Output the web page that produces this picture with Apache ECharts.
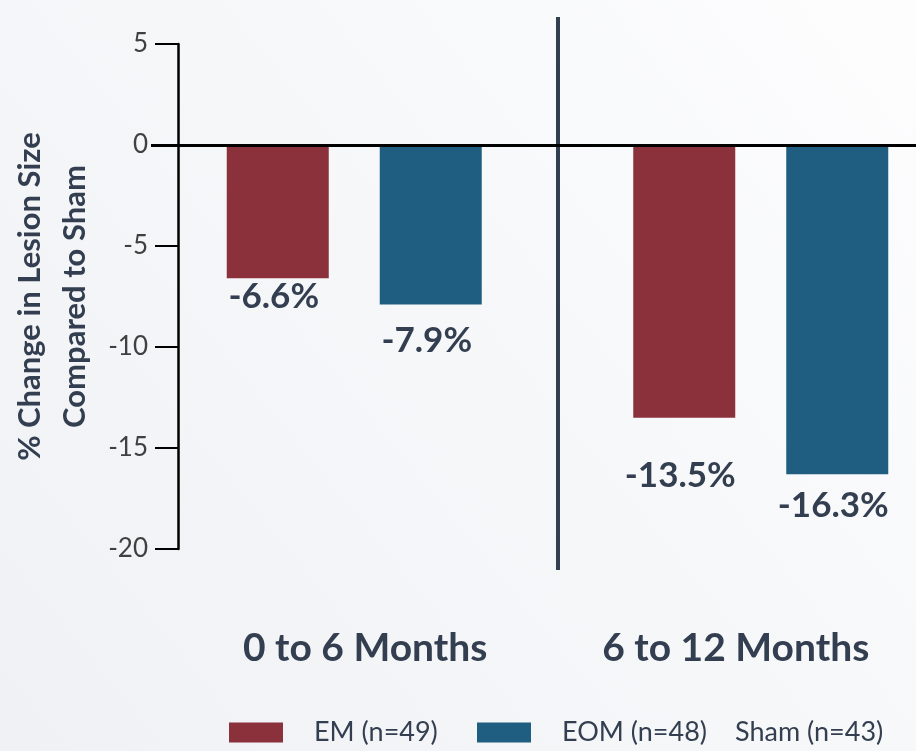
<!DOCTYPE html>
<html>
<head>
<meta charset="utf-8">
<script src="https://cdn.jsdelivr.net/npm/echarts@6/dist/echarts.min.js"></script>
<style>html,body{margin:0;padding:0;}#c{width:916px;height:751px;}</style>
</head>
<body>
<div id="c"></div>
<script>
// ---- data ----
const categories = ['0 to 6 Months', '6 to 12 Months'];
const emValues = [-6.6, -13.5];
const eomValues = [-7.9, -16.3];
const shamValues = [0, 0];
const seriesNames = ['EM (n=49)', 'EOM (n=48)', 'Sham (n=43)'];
const yTicks = [5, 0, -5, -10, -15, -20];
const yTitle = '% Change in Lesion Size\nCompared to Sham';

// ---- styles ----
const TXT = '#333f50';
const RED = '#8b313c';
const BLUE = '#1f5e80';
const FONT = 'Lato';
const emLabelDist = [1, 41];
const eomLabelDist = [19, 14];

const chart = echarts.init(document.getElementById('c'));

function barData(vals, dists) {
  return vals.map((v, i) => ({
    value: v,
    label: { distance: dists[i] }
  }));
}

const labelStyle = {
  show: true,
  position: 'bottom',
  offset: [-4, 0],
  formatter: p => p.value.toFixed(1) + '%',
  color: TXT,
  fontFamily: FONT,
  fontWeight: 'bold',
  fontSize: 35
};

const legendText = { color: TXT, fontFamily: FONT, fontSize: 27 };
const catText = { color: TXT, fontFamily: FONT, fontWeight: 'bold', fontSize: 39 };

chart.setOption({
  backgroundColor: {
    type: 'linear', x: 1, y: 0, x2: 0, y2: 1,
    colorStops: [{ offset: 0, color: '#fdfdfe' }, { offset: 1, color: '#eff1f4' }]
  },
  animation: false,
  grid: [
    { left: 151, width: 813, top: 44, bottom: 202, outerBoundsMode: 'none', containLabel: false },
    { left: 151, width: 813, top: 17, bottom: 181, outerBoundsMode: 'none', containLabel: false }
  ],
  legend: [
    {
      left: 224, bottom: 0, itemWidth: 54, itemHeight: 20, icon: 'rect',
      data: [seriesNames[0]],
      formatter: n => '{g|}{t|' + n + '}',
      textStyle: Object.assign({ rich: { g: { width: 26 }, t: legendText } }, legendText)
    },
    {
      left: 472, bottom: 0, itemWidth: 54, itemHeight: 20, icon: 'rect',
      data: [seriesNames[1]],
      formatter: n => '{g|}{t|' + n + '}',
      textStyle: Object.assign({ rich: { g: { width: 26 }, t: legendText } }, legendText)
    },
    {
      left: 725, bottom: 0, itemWidth: 0, itemHeight: 20, icon: 'none',
      data: [{ name: seriesNames[2], icon: 'none' }],
      textStyle: legendText
    }
  ],
  xAxis: [
    {
      type: 'category', gridIndex: 0, data: categories,
      axisLine: { show: false, onZero: false },
      axisTick: { show: false },
      axisLabel: Object.assign({
        margin: 80, interval: 0, hideOverlap: false, showMaxLabel: true, showMinLabel: true,
        formatter: (v, i) => (i === 0 ? '{a|' : '{b|') + v + '}',
        rich: {
          a: Object.assign({ padding: [0, 0, 0, 22] }, catText),
          b: Object.assign({ padding: [0, 50, 0, 0] }, catText)
        }
      }, catText),
      splitLine: { show: false }
    },
    {
      type: 'category', gridIndex: 1, data: categories,
      axisLine: { show: false }, axisTick: { show: false }, axisLabel: { show: false },
      splitLine: { show: true, showMinLine: false, showMaxLine: false,
        lineStyle: { color: '#323f50', width: 4 } }
    }
  ],
  yAxis: [
    {
      type: 'value', gridIndex: 0,
      min: yTicks[yTicks.length - 1], max: yTicks[0], interval: 5,
      offset: -27,
      name: yTitle, nameLocation: 'middle', nameGap: 69,
      nameTextStyle: { color: TXT, fontFamily: FONT, fontWeight: 'bold', fontSize: 31, lineHeight: 45, align: 'center' },
      axisLine: { show: true, lineStyle: { color: '#000', width: 2.5 } },
      axisTick: { show: true, inside: false, length: 23, lineStyle: { color: '#000', width: 2 } },
      axisLabel: { margin: 30, color: '#404040', fontFamily: FONT, fontSize: 26 },
      splitLine: { show: false }
    },
    { type: 'value', gridIndex: 1, show: false }
  ],
  series: [
    {
      name: seriesNames[0], type: 'bar', xAxisIndex: 0, yAxisIndex: 0,
      data: barData(emValues, emLabelDist),
      barWidth: 102, barGap: '50%',
      itemStyle: { color: RED },
      label: labelStyle,
      markLine: {
        silent: true, symbol: 'none', z: 10,
        data: [{ yAxis: 0 }],
        label: { show: false },
        lineStyle: { color: '#000', width: 3, type: 'solid' }
      }
    },
    {
      name: seriesNames[1], type: 'bar', xAxisIndex: 0, yAxisIndex: 0,
      data: barData(eomValues, eomLabelDist),
      barWidth: 102, barGap: '50%',
      itemStyle: { color: BLUE },
      label: labelStyle
    },
    {
      name: seriesNames[2], type: 'line', xAxisIndex: 0, yAxisIndex: 0,
      data: shamValues, showSymbol: false,
      itemStyle: { color: 'rgba(0,0,0,0)' },
      lineStyle: { opacity: 0 }
    }
  ]
});
</script>
</body>
</html>
